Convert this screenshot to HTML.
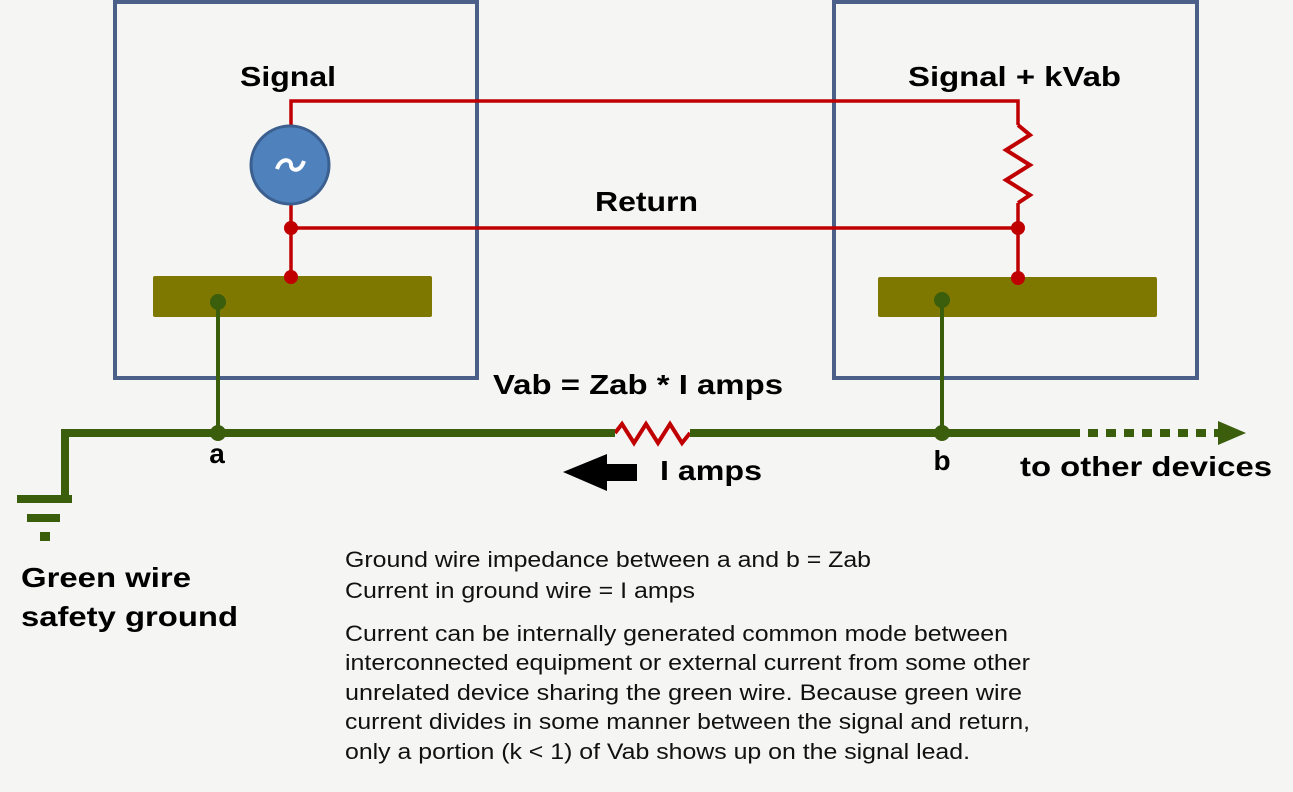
<!DOCTYPE html>
<html><head><meta charset="utf-8"><style>
html,body{margin:0;padding:0;background:#f5f5f4;}
svg{display:block;font-family:"Liberation Sans",Arial,sans-serif;}
</style></head><body>
<svg width="1293" height="792" viewBox="0 0 1293 792" xmlns="http://www.w3.org/2000/svg">
<rect width="1293" height="792" fill="#f5f5f4"/>
<rect x="115" y="2" width="362" height="376" fill="none" stroke="#4a6088" stroke-width="4"/>
<rect x="834" y="2" width="363" height="376" fill="none" stroke="#4a6088" stroke-width="4"/>
<rect x="153" y="276" width="279" height="41" rx="2" fill="#7f7800"/>
<rect x="878" y="277" width="279" height="40" rx="2" fill="#7f7800"/>
<g stroke="#c00000" stroke-width="3.5" fill="none">
<polyline points="291,125 291,101 1018,101 1018,125"/>
<polyline points="1018,125 1030,135 1006,150 1030,165 1006,180 1030,195 1018,203" stroke-width="4"/>
<line x1="1018" y1="203" x2="1018" y2="278"/>
<line x1="291" y1="205" x2="291" y2="277"/>
<line x1="291" y1="228" x2="1018" y2="228"/>
<polyline points="615,433 622,424 634,443 646,424 658,443 670,424 682,443 690,433" stroke-width="4"/>
</g>
<g fill="#c00000">
<circle cx="291" cy="228" r="7"/><circle cx="291" cy="277" r="7"/>
<circle cx="1018" cy="228" r="7"/><circle cx="1018" cy="278" r="7"/>
</g>
<circle cx="290" cy="165" r="39" fill="#4f81bd" stroke="#3b5f8f" stroke-width="3"/>
<path d="M277,169 C281,157 291,159 291,165 C291,171 300,173 304,161" stroke="#fff" stroke-width="4" fill="none"/>
<g stroke="#3a5e0c" fill="none">
<polyline points="65,497 65,433 615,433" stroke-width="8"/>
<line x1="690" y1="433" x2="1070" y2="433" stroke-width="8"/>
<line x1="1070" y1="433" x2="1220" y2="433" stroke-width="8" stroke-dasharray="10,8"/>
<line x1="218" y1="302" x2="218" y2="433" stroke-width="4"/>
<line x1="942" y1="300" x2="942" y2="433" stroke-width="4"/>
</g>
<g fill="#3a5e0c">
<polygon points="1218,421 1246,433 1218,445"/>
<circle cx="218" cy="302" r="8"/><circle cx="942" cy="300" r="8"/>
<circle cx="218" cy="433" r="8"/><circle cx="942" cy="433" r="8"/>
<rect x="17" y="495" width="55" height="8"/>
<rect x="27" y="514" width="33" height="8"/>
<rect x="40" y="532" width="10" height="9"/>
</g>
<polygon points="563,472 607,454 607,464 637,464 637,481 607,481 607,491" fill="#000"/>
<g font-weight="bold" fill="#000" font-size="28">
<text x="240" y="86" textLength="96" lengthAdjust="spacingAndGlyphs">Signal</text>
<text x="908" y="86" textLength="213" lengthAdjust="spacingAndGlyphs">Signal + kVab</text>
<text x="595" y="211" textLength="103" lengthAdjust="spacingAndGlyphs">Return</text>
<text x="493" y="394" textLength="290" lengthAdjust="spacingAndGlyphs">Vab = Zab * I amps</text>
<text x="217" y="463" text-anchor="middle">a</text>
<text x="660" y="480" textLength="102" lengthAdjust="spacingAndGlyphs">I amps</text>
<text x="942" y="470" text-anchor="middle">b</text>
<text x="1020" y="476" textLength="252" lengthAdjust="spacingAndGlyphs">to other devices</text>
<text x="21" y="587" textLength="170" lengthAdjust="spacingAndGlyphs">Green wire</text>
<text x="21" y="626" textLength="217" lengthAdjust="spacingAndGlyphs">safety ground</text>
</g>
<g fill="#111" font-size="22">
<text x="345" y="567" textLength="526" lengthAdjust="spacingAndGlyphs">Ground wire impedance between a and b = Zab</text>
<text x="345" y="598" textLength="350" lengthAdjust="spacingAndGlyphs">Current in ground wire = I amps</text>
<text x="345" y="641" textLength="663" lengthAdjust="spacingAndGlyphs">Current can be internally generated common mode between</text>
<text x="345" y="670" textLength="685" lengthAdjust="spacingAndGlyphs">interconnected equipment or external current from some other</text>
<text x="345" y="700" textLength="677" lengthAdjust="spacingAndGlyphs">unrelated device sharing the green wire.  Because green wire</text>
<text x="345" y="729" textLength="685" lengthAdjust="spacingAndGlyphs">current divides in some manner between the signal and return,</text>
<text x="345" y="759" textLength="625" lengthAdjust="spacingAndGlyphs">only a portion (k &lt; 1) of Vab shows up on the signal lead.</text>
</g>
</svg>
</body></html>
